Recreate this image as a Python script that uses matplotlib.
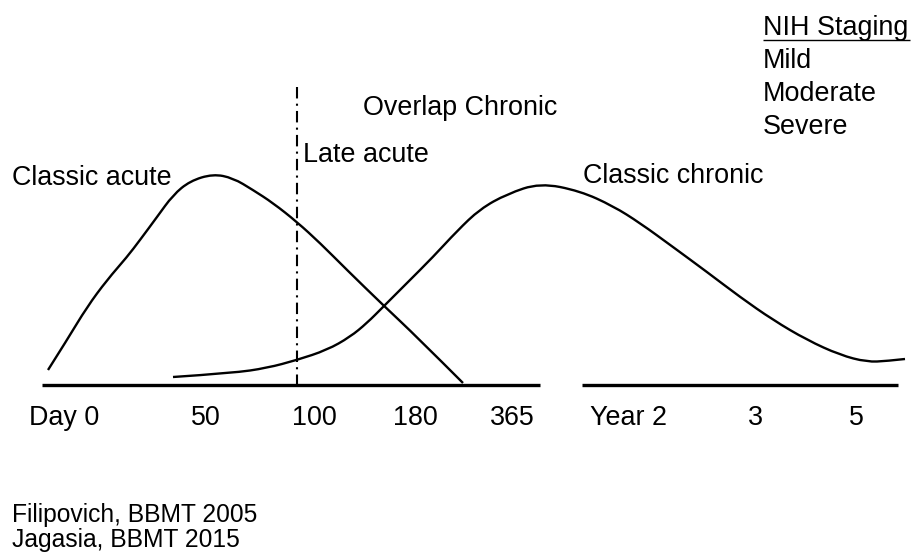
import numpy as np
import matplotlib
matplotlib.use("Agg")
import matplotlib.pyplot as plt
from matplotlib.path import Path
from matplotlib.patches import PathPatch

plt.rcParams['font.family'] = ['Liberation Sans', 'DejaVu Sans']

# curves (x, y in picture units, y grows downwards)
acute_x = [48, 67, 87, 107, 127, 140, 157, 173, 190, 213, 233, 253, 273, 297, 320, 347, 383, 417, 463]
acute_y = [370, 340, 307, 280, 257, 240, 217, 195, 181, 174, 178, 190, 203, 222, 243, 270, 305, 337, 383]

chronic_x = [173, 233, 267, 297, 327, 350, 367, 383, 407, 433, 457, 480, 507, 540,
             580, 613, 640, 673, 707, 740, 773, 807, 840, 867, 887, 905]
chronic_y = [377, 373, 368, 360, 350, 337, 323, 307, 283, 257, 231, 209, 194, 183,
             191, 206, 223, 247, 272, 297, 320, 340, 355, 362, 361, 359]

# timeline: two segments with a break between 365 days and year 2
axis_y = 385
axis_segments = [(42, 540), (582, 898)]
tick_x = [64, 206, 314, 415, 512, 629, 755, 856]
tick_labels = ["Day 0", "50", "100", "180", "365", "Year 2", "3", "5"]
day100_x = 297

curve_labels = [("Classic acute", 12, 185), ("Late acute", 303, 162),
                ("Overlap Chronic", 363, 115), ("Classic chronic", 583, 183)]
staging = ["Mild", "Moderate", "Severe"]
refs = ["Filipovich, BBMT 2005", "Jagasia, BBMT 2015"]


def smooth_path(xs, ys):
    # quadratic bezier through the midpoints, read points used as control points
    pts = np.column_stack([xs, ys]).astype(float)
    verts = [pts[0]]
    codes = [Path.MOVETO]
    for i in range(1, len(pts) - 1):
        mid = (pts[i] + pts[i + 1]) / 2 if i < len(pts) - 2 else pts[i + 1]
        verts += [pts[i], mid]
        codes += [Path.CURVE3, Path.CURVE3]
    return Path(verts, codes)


fig = plt.figure(figsize=(9.14, 5.57), dpi=100)
ax = fig.add_axes([0, 0, 1, 1])
ax.set_xlim(0, 914)
ax.set_ylim(557, 0)
ax.axis("off")

for xs, ys in [(acute_x, acute_y), (chronic_x, chronic_y)]:
    ax.add_patch(PathPatch(smooth_path(xs, ys), facecolor="none", edgecolor="black",
                           lw=1.7, capstyle="butt"))

for x0, x1 in axis_segments:
    ax.hlines(axis_y, x0, x1, color="black", lw=2.4)

ax.vlines(day100_x, 87, axis_y, color="black", lw=1.5, linestyles=(0, (5.5, 2.5, 1, 2.5)))

fs = 19.4
for x, lab in zip(tick_x, tick_labels):
    ax.text(x, 425, lab, ha="center", va="baseline", fontsize=fs)

for lab, x, y in curve_labels:
    ax.text(x, y, lab, ha="left", va="baseline", fontsize=fs)

ax.text(763, 35, "NIH Staging", ha="left", va="baseline", fontsize=fs)
ax.hlines(40, 763, 910, color="black", lw=1.0)
for i, lab in enumerate(staging):
    ax.text(763, 68 + 33 * i, lab, ha="left", va="baseline", fontsize=fs)

for i, lab in enumerate(refs):
    ax.text(12, 522 + 25 * i, lab, ha="left", va="baseline", fontsize=17.7)

fig.savefig("out.png", dpi=100, facecolor="white")
